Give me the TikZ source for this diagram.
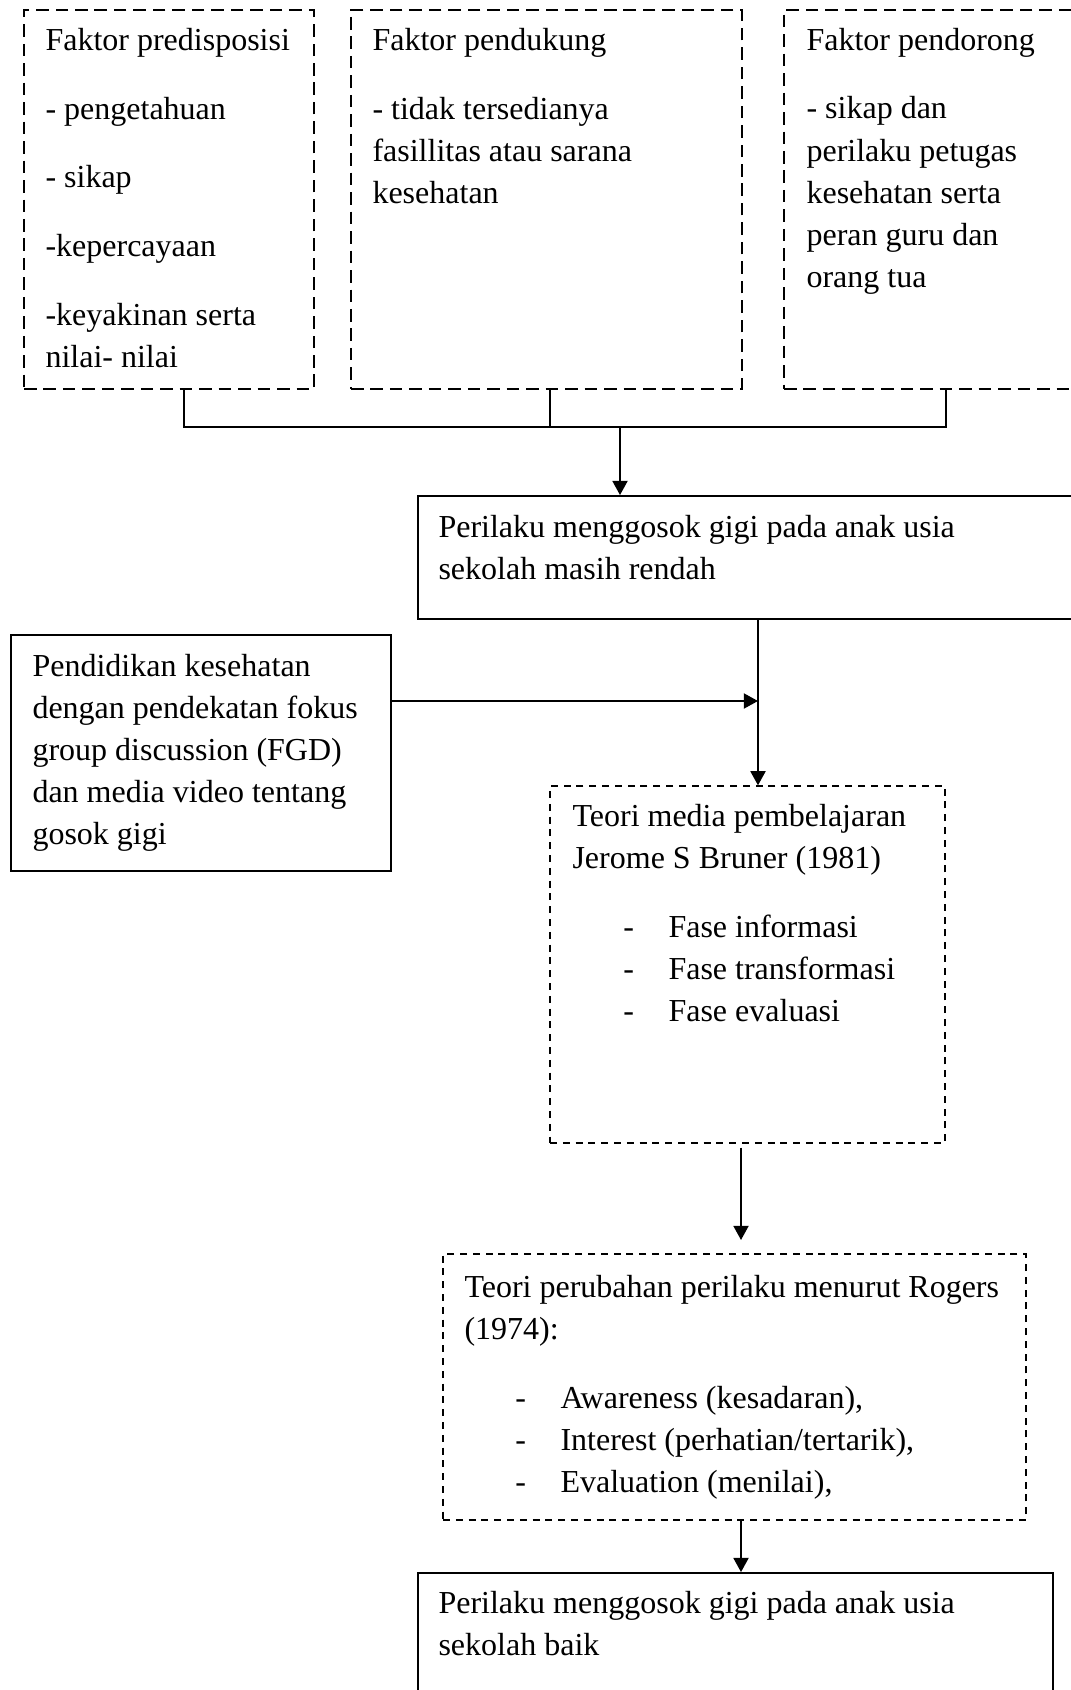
\documentclass[tikz,border=0pt]{standalone}
\usepackage{fontspec}
\setmainfont{Liberation Serif}
\usepackage{tikz}
\usetikzlibrary{arrows.meta,positioning,calc,fit}

\newcommand{\itm}[1]{\hspace*{19.1pt}\makebox[16.9pt][l]{-}#1}

\begin{document}
\begin{tikzpicture}[
    x=0.375pt, y=-0.375pt,
    font=\fontsize{12}{15.75}\selectfont,
    factor/.style={draw, line width=0.7pt, dash pattern=on 4.7pt off 2.6pt, inner sep=0pt},
    theory/.style={draw, line width=0.5pt, dash pattern=on 2.6pt off 2.2pt, inner sep=0pt},
    block/.style={draw, line width=0.7pt, inner sep=0pt},
    txt/.style={anchor=north west, align=left, inner sep=0pt, execute at begin node=\strut},
    line/.style={line width=0.7pt},
    arrow/.style={-{Triangle[length=5.3pt, width=5.6pt]}, line width=0.8pt}
  ]
    \useasboundingbox (0,0) rectangle (1071,1690);
    \clip (0,0) rectangle (1071,1690);

    % faktor
    \node[factor, fit={(24,10) (314,389)}]   (pre) {};
    \node[factor, fit={(351,10) (742,389)}]  (duk) {};
    \node[factor, fit={(784,10) (1108,389)}] (dor) {};
    \node[txt] (preT) at (45,27.6) {Faktor predisposisi\\[10pt]- pengetahuan\\[10pt]- sikap\\[10pt]-kepercayaan\\[10pt]-keyakinan serta\\nilai- nilai};
    \node[txt] (dukT) at (372,27.6) {Faktor pendukung\\[10pt]- tidak tersedianya\\fasillitas atau sarana\\kesehatan};
    \node[txt] (dorT) at (806,27.6) {Faktor pendorong\\[10pt]- sikap dan\\perilaku petugas\\kesehatan serta\\peran guru dan\\orang tua};

    % perilaku awal dan intervensi
    \node[block, fit={(418,496) (1098,619)}] (rendah) {};
    \node[txt] (rendahT) at (438,514.6) {Perilaku menggosok gigi pada anak usia\\sekolah masih rendah};
    \node[block, fit={(11,635) (391,871)}] (fgd) {};
    \node[txt] (fgdT) at (32,653.6) {Pendidikan kesehatan\\dengan pendekatan fokus\\group discussion (FGD)\\dan media video tentang\\gosok gigi};

    % teori
    \node[theory, fit={(550,786) (945,1143)}] (bruner) {};
    \node[txt] (brunerT) at (572,803.6) {Teori media pembelajaran\\Jerome S Bruner (1981)\\[10pt]\itm{Fase informasi}\\\itm{Fase transformasi}\\\itm{Fase evaluasi}};
    \node[theory, fit={(443,1254) (1026,1520)}] (rogers) {};
    \node[txt] (rogersT) at (464,1274.6) {Teori perubahan perilaku menurut Rogers\\(1974):\\[10pt]\itm{Awareness (kesadaran),}\\\itm{Interest (perhatian/tertarik),}\\\itm{Evaluation (menilai),}};

    % hasil
    \node[block, fit={(418,1573) (1053,1760)}] (baik) {};
    \node[txt] (baikT) at (438,1590.6) {Perilaku menggosok gigi pada anak usia\\sekolah baik};

    \coordinate (join) at (620,427);
    \coordinate (fgdout) at ($(fgd.east)+(0,-52)$);
    \coordinate (brunerout) at ($(bruner.south)+(-6.5,0)$);

    \draw[line] (pre.south) ++(15,0) |- (join) -| (dor.south);
    \draw[line] (duk.south) ++(3.5,0) |- (join);
    \draw[arrow] (join) -- (join |- rendah.north);
    \draw[arrow] (rendah.south) -- (rendah.south |- bruner.north);
    \draw[arrow] (fgdout) -- (fgdout -| rendah.south);
    \draw[arrow, shorten <=1.5pt, shorten >=5pt] (brunerout) -- (brunerout |- rogers.north);
    \draw[arrow] (brunerout |- rogers.south) -- (brunerout |- baik.north);
  \end{tikzpicture}
\end{document}
